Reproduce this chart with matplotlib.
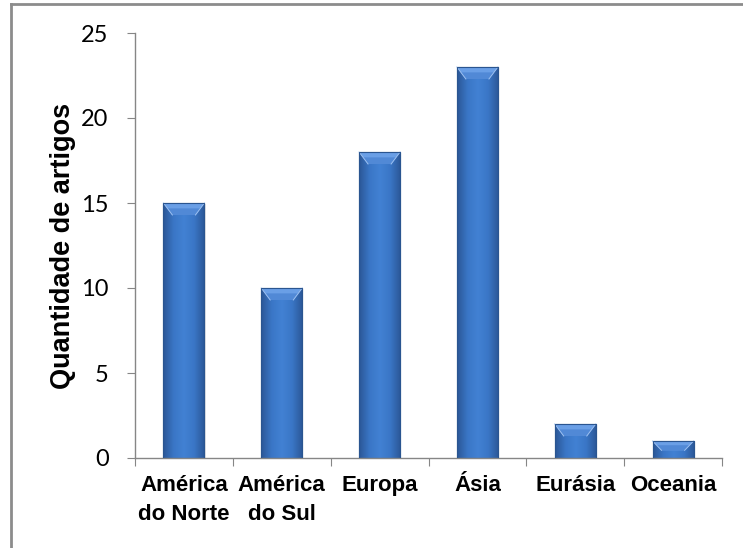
#!/usr/bin/env python3

"""Bar chart of article counts per continent, Excel-style bevelled bars."""

import numpy as np
import matplotlib.pyplot as plt
from matplotlib.colors import LinearSegmentedColormap
from matplotlib.patches import Polygon
from matplotlib import font_manager

# * Data

regioes = ["América\ndo Norte", "América\ndo Sul", "Europa", "Ásia", "Eurásia", "Oceania"]
artigos = [15, 10, 18, 23, 2, 1]
yticks = [0, 5, 10, 15, 20, 25]

# * Fonts

names = {f.name for f in font_manager.fontManager.ttflist}
narrow = "Liberation Sans Narrow" if "Liberation Sans Narrow" in names else "Liberation Sans"

# * Figure

W, H = 743, 548
fig = plt.figure(figsize=(W / 100, H / 100), dpi=100)
ax = fig.add_axes([135 / W, 1 - 458 / H, (722 - 135) / W, (458 - 33) / H])

# outer frame: only left and top edges fall inside the image
fig.add_artist(plt.Line2D([11 / W, 11 / W], [0, 1 - 4 / H], transform=fig.transFigure,
                          color="#8c8c8c", lw=2))
fig.add_artist(plt.Line2D([11 / W, 1], [1 - 4 / H, 1 - 4 / H], transform=fig.transFigure,
                          color="#8c8c8c", lw=2))

x = np.arange(len(regioes))
largura = 0.42
ax.set_xlim(-0.5, len(regioes) - 0.5)
ax.set_ylim(0, 25)

# data units per pixel, used for the bevel size
dx = (len(regioes)) / (722 - 135)
dy = 25 / (458 - 33)

cmap = LinearSegmentedColormap.from_list(
    "barra", ["#2b5797", "#3a76c6", "#4281d3", "#3a76c6", "#2b5797"])
grad = np.linspace(0, 1, 64).reshape(1, -1)

barras = ax.bar(x, artigos, width=largura, color="#3b74c0", edgecolor="#2a5590",
                lw=0.8, zorder=2)

for b, h in zip(barras, artigos):
    x0 = b.get_x()
    x1 = x0 + b.get_width()
    # soft shadow
    for k, a in [(3, 0.05), (2, 0.07), (1, 0.09)]:
        ax.add_patch(plt.Rectangle((x0 - k * 0.3 * dx + 1.5 * dx, -k * dy), x1 - x0,
                                   h, color="#000000", alpha=a, lw=0, zorder=1))
    img = ax.imshow(grad, cmap=cmap, aspect="auto", extent=(x0, x1, 0, h), zorder=2.5)
    img.set_clip_path(b)
    bh = min(12 * dy, h * 0.55)
    bw = 9 * dx
    # top bevel
    ax.add_patch(Polygon([(x0, h), (x1, h), (x1 - bw, h - bh), (x0 + bw, h - bh)],
                         closed=True, facecolor="#6a9fe6", edgecolor="none", zorder=3))
    ax.add_patch(Polygon([(x0 + bw * 0.45, h - bh * 0.45), (x1 - bw * 0.45, h - bh * 0.45),
                          (x1 - bw, h - bh), (x0 + bw, h - bh)],
                         closed=True, facecolor="#5189d6", edgecolor="none", zorder=3))
    ax.plot([x0, x0 + bw], [h, h - bh], color="#9cc0f0", lw=0.7, zorder=3.5)
    ax.plot([x1, x1 - bw], [h, h - bh], color="#9cc0f0", lw=0.7, zorder=3.5)
    # outline on top
    ax.add_patch(plt.Rectangle((x0, 0), x1 - x0, h, fill=False, edgecolor="#2a5590",
                               lw=0.8, zorder=4))

# * Axes styling

for s in ["top", "right"]:
    ax.spines[s].set_visible(False)
for s in ["left", "bottom"]:
    ax.spines[s].set_color("#868686")
    ax.spines[s].set_linewidth(1.0)

ax.set_yticks(yticks)
ax.set_yticklabels([str(v) for v in yticks], fontfamily="Lato", fontsize=17)
ax.tick_params(axis="y", length=6, color="#868686", pad=13)

ax.set_xticks(np.arange(-0.5, len(regioes)), minor=False)
ax.set_xticklabels([])
ax.tick_params(axis="x", length=6, color="#868686")
for xi, nome in zip(x, regioes):
    ax.text(xi, -1.0, nome, ha="center", va="top", fontfamily=narrow,
            fontweight="bold", fontsize=16, linespacing=1.5,
            transform=ax.transData)

ax.set_ylabel("Quantidade de artigos", fontfamily="Liberation Sans", fontweight="bold",
              fontsize=19.5, labelpad=4)

fig.savefig("out.png", dpi=100)
